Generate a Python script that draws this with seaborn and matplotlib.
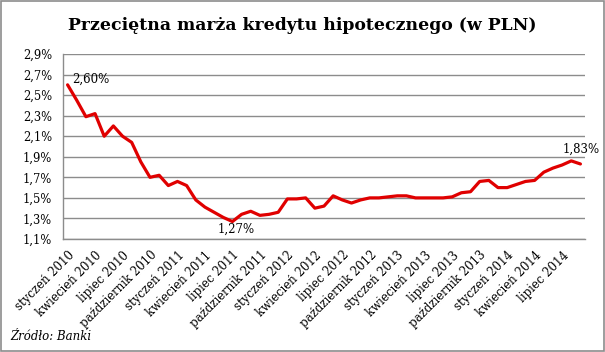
import numpy as np
import pandas as pd
import seaborn as sns
import matplotlib.pyplot as plt
from matplotlib.patches import Rectangle
from matplotlib.ticker import FuncFormatter, FixedLocator

# Data: monthly average mortgage margin, Jan 2010 - Sep 2014
MONTHS = ["styczeń", "luty", "marzec", "kwiecień", "maj", "czerwiec",
          "lipiec", "sierpień", "wrzesień", "październik", "listopad", "grudzień"]
YEARS = [2010, 2011, 2012, 2013, 2014]
MARGIN = [2.60, 2.45, 2.29, 2.32, 2.10, 2.20, 2.10, 2.04, 1.85, 1.70, 1.72, 1.62,
          1.66, 1.62, 1.48, 1.41, 1.36, 1.31, 1.27, 1.34, 1.37, 1.33, 1.34, 1.36,
          1.49, 1.49, 1.50, 1.40, 1.42, 1.52, 1.48, 1.45, 1.48, 1.50, 1.50, 1.51,
          1.52, 1.52, 1.50, 1.50, 1.50, 1.50, 1.51, 1.55, 1.56, 1.66, 1.67, 1.60,
          1.60, 1.63, 1.66, 1.67, 1.75, 1.79, 1.82, 1.86, 1.83]
Y_TICKS = [1.1, 1.3, 1.5, 1.7, 1.9, 2.1, 2.3, 2.5, 2.7, 2.9]
ANNOTATED = {0: "2,60%", 18: "1,27%", 56: "1,83%"}

labels = [f"{m} {y}" for y in YEARS for m in MONTHS][:len(MARGIN)]
df = pd.DataFrame({"idx": np.arange(len(MARGIN)), "miesiac": labels, "marza": MARGIN})

sns.set_style("white")
plt.rcParams["font.family"] = ["DejaVu Serif"]
plt.rcParams["text.color"] = "black"
plt.rcParams["xtick.color"] = "black"
plt.rcParams["ytick.color"] = "black"

fig = plt.figure(figsize=(6.05, 3.52), dpi=100)
ax = fig.add_axes([63 / 605, 1 - 239 / 352, 522 / 605, 185 / 352])

sns.lineplot(data=df, x="idx", y="marza", ax=ax, color="#e00000", linewidth=2.3)

grid_col = "#8c8c8c"
ax.set_xlim(-0.5, len(MARGIN) - 0.5)
ax.set_ylim(1.1, 2.9)
ax.set_yticks(Y_TICKS)
ax.yaxis.set_major_formatter(FuncFormatter(lambda v, p: f"{v:.1f}%".replace(".", ",")))
ax.grid(axis="y", color=grid_col, linewidth=1)
ax.set_axisbelow(True)
ax.tick_params(axis="y", length=0, labelsize=8.3, pad=8)

# labels every 3rd month at category centre, tick marks between categories
tick_pos = list(range(0, len(MARGIN), 3))
ax.set_xticks(tick_pos)
ax.set_xticklabels([labels[i] for i in tick_pos], rotation=45, ha="right",
                   rotation_mode="anchor", fontsize=8.5)
ax.tick_params(axis="x", which="major", length=0, pad=7)
ax.xaxis.set_minor_locator(FixedLocator([i - 0.5 for i in range(0, len(MARGIN) + 1, 3)]))
ax.tick_params(axis="x", which="minor", length=4, color=grid_col, width=1, direction="out")

for s in ["top", "right"]:
    ax.spines[s].set_visible(False)
for s in ["left", "bottom"]:
    ax.spines[s].set_color(grid_col)
    ax.spines[s].set_linewidth(1)

ax.set_xlabel("")
ax.set_ylabel("")

# data labels
ax.text(0.45, 2.65, ANNOTATED[0], fontsize=8.5, ha="left", va="center")
ax.text(18.4, 1.19, ANNOTATED[18], fontsize=8.5, ha="center", va="center")
ax.text(56.1, 1.97, ANNOTATED[56], fontsize=8.5, ha="center", va="center")

fig.text(0.5, 1 - 25 / 352, "Przeciętna marża kredytu hipotecznego (w PLN)",
         ha="center", va="center", fontsize=12.4, fontweight="bold")
fig.text(10 / 605, 1 - 336 / 352, "Źródło: Banki", ha="left", va="center",
         fontsize=8.5, style="italic")

fig.patches.append(Rectangle((0.002, 0.003), 0.996, 0.994, transform=fig.transFigure,
                             fill=False, edgecolor="#8c8c8c", linewidth=1.2))

fig.savefig("out.png", dpi=100)
